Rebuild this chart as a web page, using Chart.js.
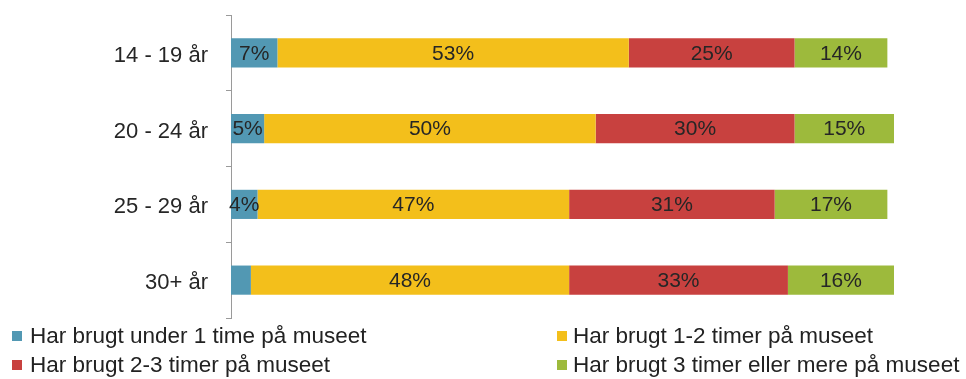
<!DOCTYPE html>
<html lang="da">
<head>
<meta charset="utf-8">
<title>Tid brugt på museet fordelt på alder</title>
<script src="https://cdn.jsdelivr.net/npm/chart.js@4/dist/chart.umd.min.js"></script>
<style>
  html, body { margin: 0; padding: 0; background: #ffffff; }
  #wrap { position: relative; width: 966px; height: 379px; }
</style>
</head>
<body>
<div id="wrap"><canvas id="chart" width="966" height="379"></canvas></div>
<script>
// Age groups (rows) and the share of visitors in each time-spent group, in percent
const ageGroups = ['14 - 19 år', '20 - 24 år', '25 - 29 år', '30+ år'];
const seriesNames = [
  'Har brugt under 1 time på museet',
  'Har brugt 1-2 timer på museet',
  'Har brugt 2-3 timer på museet',
  'Har brugt 3 timer eller mere på museet'
];
const under1 = [7, 5, 4, 3];
const oneToTwo = [53, 50, 47, 48];
const twoToThree = [25, 30, 31, 33];
const threePlus = [14, 15, 17, 16];

const colors = ['#5298b3', '#f3bf1b', '#c8413f', '#9dba3c'];
const FONT = '"Liberation Sans", Arial, Helvetica, sans-serif';

const seriesValues = [under1, oneToTwo, twoToThree, threePlus];
const datasets = seriesValues.map((vals, i) => ({
  label: seriesNames[i],
  data: vals,
  backgroundColor: colors[i],
  borderWidth: 0,
  barPercentage: 0.385,
  categoryPercentage: 1
}));

// Percent labels centred in each segment (skipped for very thin segments)
const segmentLabels = {
  id: 'segmentLabels',
  afterDatasetsDraw(chart) {
    const ctx = chart.ctx;
    ctx.save();
    ctx.font = '21px ' + FONT;
    ctx.fillStyle = '#262626';
    ctx.textAlign = 'center';
    ctx.textBaseline = 'middle';
    chart.data.datasets.forEach((ds, di) => {
      const meta = chart.getDatasetMeta(di);
      meta.data.forEach((bar, i) => {
        const v = ds.data[i];
        if (v < 4) return;
        const cx = (bar.x + bar.base) / 2;
        ctx.fillText(v + '%', cx, bar.y + 1);
      });
    });
    ctx.restore();
  }
};

// Two-column legend under the plot
const gridLegend = {
  id: 'gridLegend',
  afterDraw(chart) {
    const ctx = chart.ctx;
    const cols = [{ box: 12, text: 30 }, { box: 557, text: 573 }];
    const rows = [336, 365];
    ctx.save();
    ctx.font = '22.5px ' + FONT;
    ctx.textAlign = 'left';
    ctx.textBaseline = 'middle';
    chart.data.datasets.forEach((ds, i) => {
      const col = cols[i % 2];
      const y = rows[Math.floor(i / 2)];
      ctx.fillStyle = ds.backgroundColor;
      ctx.fillRect(col.box, y - 5, 10, 10);
      ctx.fillStyle = '#222222';
      ctx.fillText(ds.label, col.text, y + 1);
    });
    ctx.restore();
  }
};

new Chart(document.getElementById('chart'), {
  type: 'bar',
  data: { labels: ageGroups, datasets },
  options: {
    indexAxis: 'y',
    responsive: false,
    animation: false,
    layout: { padding: { top: 15, bottom: 61, right: 72, left: 0 } },
    plugins: {
      legend: { display: false },
      tooltip: { enabled: false }
    },
    scales: {
      x: {
        stacked: true,
        min: 0,
        max: 100,
        display: false
      },
      y: {
        stacked: true,
        offset: true,
        grid: {
          offset: true,
          drawOnChartArea: false,
          drawTicks: true,
          tickLength: 5,
          color: '#9a9a9a',
          lineWidth: 1
        },
        border: { display: true, color: '#9a9a9a', width: 1 },
        ticks: {
          padding: 18,
          labelOffset: 3,
          color: '#262626',
          font: { family: FONT, size: 22 }
        },
        afterFit(scale) {
          scale.width = 231;
          scale.paddingTop = 0;
          scale.paddingBottom = 0;
        }
      }
    }
  },
  plugins: [segmentLabels, gridLegend]
});
</script>
</body>
</html>
